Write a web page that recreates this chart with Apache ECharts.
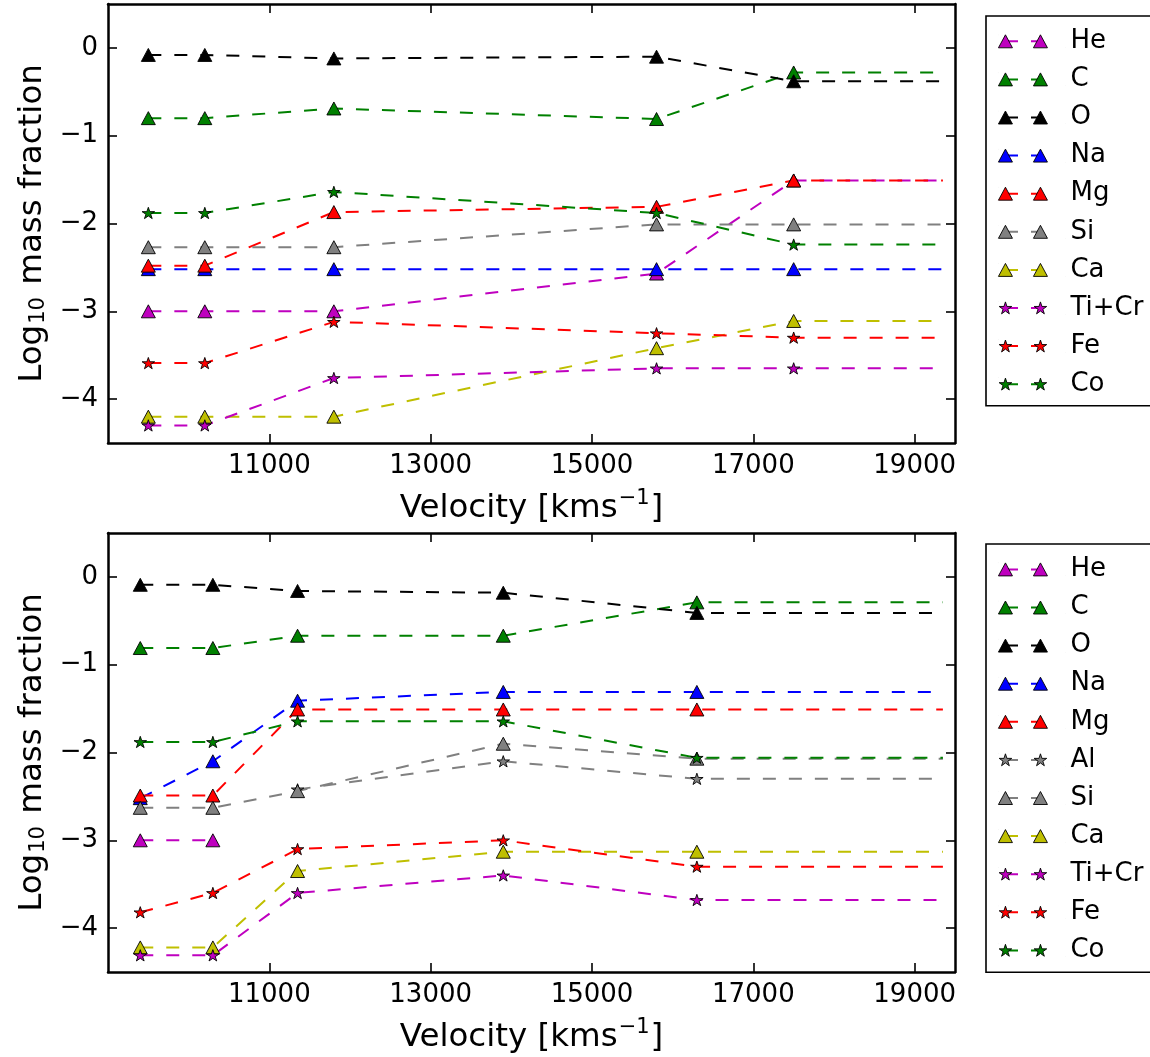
<!DOCTYPE html>
<html><head><meta charset="utf-8">
<script src="https://cdn.jsdelivr.net/npm/echarts@6/dist/echarts.min.js"></script>
<style>html,body{margin:0;padding:0;background:#fff}#c{width:1150px;height:1057px}</style>
</head><body><div id="c"></div>
<script>
// ---------------- data ----------------
const velTop = [9500, 10200, 11800, 15800, 17500];
const velBot = [9400, 10300, 11350, 13900, 16300];
const outerVel = [19350]; // outer boundary the last zone extends to
const xTicks = [11000, 13000, 15000, 17000, 19000];
const yTicks = [-4, -3, -2, -1, 0];

const elemTop = ['He', 'C', 'O', 'Na', 'Mg', 'Si', 'Ca', 'Ti+Cr', 'Fe', 'Co'];
const elemBot = ['He', 'C', 'O', 'Na', 'Mg', 'Al', 'Si', 'Ca', 'Ti+Cr', 'Fe', 'Co'];

const topHe   = [-3.00, -3.00, -3.00, -2.57, -1.51];
const topC    = [-0.80, -0.80, -0.69, -0.81, -0.28];
const topO    = [-0.08, -0.08, -0.12, -0.10, -0.38];
const topNa   = [-2.52, -2.52, -2.52, -2.52, -2.52];
const topMg   = [-2.48, -2.48, -1.87, -1.81, -1.51];
const topSi   = [-2.27, -2.27, -2.27, -2.01, -2.01];
const topCa   = [-4.20, -4.20, -4.20, -3.42, -3.11];
const topTiCr = [-4.30, -4.30, -3.76, -3.65, -3.65];
const topFe   = [-3.59, -3.59, -3.12, -3.25, -3.30];
const topCo   = [-1.88, -1.88, -1.64, -1.88, -2.24];

const botHe   = [-3.00, -3.00, null, null, null];
const botC    = [-0.81, -0.81, -0.67, -0.67, -0.29];
const botO    = [-0.09, -0.09, -0.16, -0.18, -0.41];
const botNa   = [-2.52, -2.10, -1.41, -1.31, -1.31];
const botMg   = [-2.49, -2.49, -1.51, -1.51, -1.51];
const botAl   = [null, null, -2.42, -2.10, -2.30];
const botSi   = [-2.63, -2.63, -2.44, -1.90, -2.07];
const botCa   = [-4.22, -4.22, -3.35, -3.13, -3.13];
const botTiCr = [-4.31, -4.31, -3.60, -3.40, -3.68];
const botFe   = [-3.82, -3.60, -3.10, -3.00, -3.30];
const botCo   = [-1.88, -1.88, -1.645, -1.645, -2.06];

const topVals = {'He': topHe, 'C': topC, 'O': topO, 'Na': topNa, 'Mg': topMg, 'Si': topSi, 'Ca': topCa, 'Ti+Cr': topTiCr, 'Fe': topFe, 'Co': topCo};
const botVals = {'He': botHe, 'C': botC, 'O': botO, 'Na': botNa, 'Mg': botMg, 'Al': botAl, 'Si': botSi, 'Ca': botCa, 'Ti+Cr': botTiCr, 'Fe': botFe, 'Co': botCo};

// ---------------- styles ----------------
const FONT = 'DejaVu Sans';
const colors = {'He': '#bf00bf', 'C': '#008000', 'O': '#000000', 'Na': '#0000ff', 'Mg': '#ff0000', 'Al': '#808080', 'Si': '#808080', 'Ca': '#bfbf00', 'Ti+Cr': '#bf00bf', 'Fe': '#ff0000', 'Co': '#008000'};
const shapes = {'He': 'tri', 'C': 'tri', 'O': 'tri', 'Na': 'tri', 'Mg': 'tri', 'Al': 'star', 'Si': 'tri', 'Ca': 'tri', 'Ti+Cr': 'star', 'Fe': 'star', 'Co': 'star'};

function starPts(cx, cy, R) {
  const r = R * 0.381966; let s = '';
  for (let k = 0; k < 10; k++) {
    const a = (-90 + k * 36) * Math.PI / 180, rr = k % 2 ? r : R;
    s += (k ? 'L' : 'M') + (cx + rr * Math.cos(a)).toFixed(2) + ' ' + (cy + rr * Math.sin(a)).toFixed(2);
  }
  return s + 'Z';
}
const STAR = 'path://' + starPts(50, 50, 50);
const ANCH = 'M0 0L0.01 0L0.01 0.01Z M67 13L66.99 13L66.99 12.99Z';
const LEG_TRI = 'path://' + ANCH + ' M0 13L7 0L14 13Z M35 13L42 0L49 13Z';
const LEG_STAR = 'path://' + ANCH + ' ' + starPts(7, 7, 6.6) + ' ' + starPts(42, 7, 6.6);
const LEG_STUB = 'path://' + ANCH + ' M7 5.5L20 5.5L20 7.5L7 7.5Z M33 5.5L42 5.5L42 7.5L33 7.5Z';

function mkSeries(name, vals, xs, ax) {
  const data = [];
  xs.forEach((x, i) => { if (vals[i] != null) data.push([x, vals[i]]); });
  if (vals[vals.length - 1] != null) data.push({value: [outerVel[0], vals[vals.length - 1]], symbol: 'none'});
  const isStar = shapes[name] === 'star';
  return {
    type: 'line', name: name, xAxisIndex: ax, yAxisIndex: ax, data: data,
    symbol: isStar ? STAR : 'triangle',
    symbolSize: isStar ? [12.5, 11.9] : [14, 13],
    symbolKeepAspect: true,
    lineStyle: {color: colors[name], width: 2, type: [13, 13]},
    itemStyle: {color: colors[name], borderColor: '#000', borderWidth: 0.9},
    silent: true, emphasis: {disabled: true}, animation: false, z: 3
  };
}

const series = [];
elemTop.forEach(n => series.push(mkSeries(n, topVals[n], velTop, 0)));
elemBot.forEach(n => series.push(mkSeries(n, botVals[n], velBot, 2)));

const grids = [
  {left: 108, top: 4, width: 847, height: 439},
  {left: 108, top: 533, width: 847, height: 439}
];

const NAME_FS = 32.5;
const frameLine = {show: true, onZero: false, lineStyle: {color: '#000', width: 2.5}};
function xAx(g, pos, main) {
  return {
    type: 'value', gridIndex: g, position: pos, min: 9000, max: 19500,
    axisLine: frameLine, splitLine: {show: false},
    axisTick: {show: true, inside: true, length: 9, lineStyle: {color: '#000', width: 1.6}, customValues: xTicks},
    axisLabel: {show: main, customValues: xTicks, margin: 10, color: '#000', fontFamily: FONT, fontSize: 26, formatter: v => String(v)},
    name: main ? '{t|Velocity [kms}{p|\u22121}{t|]}' : '', nameLocation: 'middle', nameGap: 45,
    nameTextStyle: {color: '#000', fontFamily: FONT, fontSize: NAME_FS,
      rich: {t: {fontFamily: FONT, fontSize: NAME_FS, color: '#000', lineHeight: 37, verticalAlign: 'bottom'},
             p: {fontFamily: FONT, fontSize: 21, color: '#000', lineHeight: 37, verticalAlign: 'top', padding: [0, 1, 0, 1]}}}
  };
}
function yAx(g, pos, main) {
  return {
    type: 'value', gridIndex: g, position: pos, min: -4.5, max: 0.5,
    axisLine: frameLine, splitLine: {show: false},
    axisTick: {show: true, inside: true, length: 9, lineStyle: {color: '#000', width: 1.6}, customValues: yTicks},
    axisLabel: {show: main, customValues: yTicks, margin: 10, color: '#000', fontFamily: FONT, fontSize: 26,
      formatter: v => v < 0 ? '\u2212' + Math.abs(v) : String(v)},
    name: main ? '{t|Log}{s|10}{t| mass fraction}' : '', nameLocation: 'middle', nameGap: 58,
    nameTextStyle: {color: '#000', fontFamily: FONT, fontSize: NAME_FS,
      rich: {t: {fontFamily: FONT, fontSize: NAME_FS, color: '#000', lineHeight: 37, verticalAlign: 'bottom'},
             s: {fontFamily: FONT, fontSize: 21, color: '#000', lineHeight: 29, verticalAlign: 'bottom', padding: [0, 2, 0, 1]}}}
  };
}

function legendPair(names, top, padTop, padBottom) {
  const base = {
    orient: 'vertical', left: 986, top: top, itemWidth: 67, itemHeight: 13, itemGap: 8.1,
    padding: [padTop, 30, padBottom, 12], selectedMode: false
  };
  const stubs = Object.assign({}, base, {
    data: names.map(n => ({name: n, icon: LEG_STUB})),
    backgroundColor: '#fff', borderColor: '#000', borderWidth: 1.6, borderRadius: 0,
    itemStyle: {borderWidth: 0}, lineStyle: {width: 0},
    textStyle: {fontFamily: FONT, fontSize: 26, lineHeight: 30, color: 'rgba(0,0,0,0)'}, z: 4
  });
  const marks = Object.assign({}, base, {
    data: names.map(n => ({name: n, icon: shapes[n] === 'star' ? LEG_STAR : LEG_TRI})),
    backgroundColor: 'transparent', borderWidth: 0,
    itemStyle: {borderColor: '#000', borderWidth: 0.9},
    textStyle: {fontFamily: FONT, fontSize: 26, lineHeight: 30, color: '#000'}, z: 5
  });
  return [stubs, marks];
}

const option = {
  animation: false,
  backgroundColor: '#fff',
  grid: grids,
  xAxis: [xAx(0, 'bottom', true), xAx(0, 'top', false), xAx(1, 'bottom', true), xAx(1, 'top', false)],
  yAxis: [yAx(0, 'left', true), yAx(0, 'right', false), yAx(1, 'left', true), yAx(1, 'right', false)],
  legend: [].concat(legendPair(elemTop, 16, 10.3, 6.6), legendPair(elemBot, 544, 10.4, 6.9)),
  series: series
};
const chart = echarts.init(document.getElementById('c'), null, {renderer: 'canvas'});
chart.setOption(option);
</script></body></html>
